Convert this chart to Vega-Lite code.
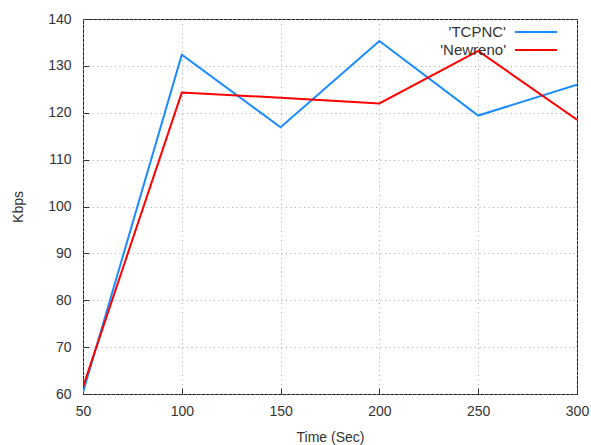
{
  "$schema": "https://vega.github.io/schema/vega-lite/v6.json",
  "autosize": "none",
  "width": 494,
  "height": 375,
  "padding": {"left": 83, "top": 19, "right": 14, "bottom": 51},
  "background": "white",
  "config": {
    "font": "Liberation Sans",
    "view": {"stroke": "#222222", "strokeWidth": 1},
    "axis": {
      "labelFont": "Liberation Sans",
      "titleFont": "Liberation Sans",
      "labelFontSize": 14,
      "titleFontSize": 14,
      "labelColor": "#333333",
      "titleColor": "#333333",
      "titleFontWeight": "normal",
      "grid": true,
      "gridColor": "#a8a8a8",
      "gridDash": [1, 3.5],
      "gridWidth": 1,
      "domain": false,
      "tickColor": "#333333",
      "tickSize": -6,
      "tickWidth": 1,
      "labelFlush": false
    },
    "legend": {
      "title": null,
      "orient": "none",
      "padding": 0,
      "symbolType": "stroke",
      "symbolSize": 1764,
      "symbolStrokeWidth": 2,
      "labelAlign": "right",
      "labelOffset": -52,
      "labelFontSize": 15,
      "labelColor": "#333333",
      "labelFont": "Liberation Sans"
    }
  },
  "data": {
    "values": [
      {"time": 50, "kbps": 60.3, "series": "'TCPNC'"},
      {"time": 100, "kbps": 132.4, "series": "'TCPNC'"},
      {"time": 150, "kbps": 116.9, "series": "'TCPNC'"},
      {"time": 200, "kbps": 135.3, "series": "'TCPNC'"},
      {"time": 250, "kbps": 119.4, "series": "'TCPNC'"},
      {"time": 300, "kbps": 126.0, "series": "'TCPNC'"},
      {"time": 50, "kbps": 61.5, "series": "'Newreno'"},
      {"time": 100, "kbps": 124.3, "series": "'Newreno'"},
      {"time": 150, "kbps": 123.2, "series": "'Newreno'"},
      {"time": 200, "kbps": 122.0, "series": "'Newreno'"},
      {"time": 250, "kbps": 133.2, "series": "'Newreno'"},
      {"time": 300, "kbps": 118.5, "series": "'Newreno'"}
    ]
  },
  "encoding": {
    "x": {
      "field": "time",
      "type": "quantitative",
      "scale": {"domain": [50, 300], "nice": false, "zero": false},
      "axis": {"title": "Time (Sec)", "values": [50, 100, 150, 200, 250, 300], "labelPadding": 16, "titlePadding": 12}
    },
    "y": {
      "field": "kbps",
      "type": "quantitative",
      "scale": {"domain": [60, 140], "nice": false, "zero": false},
      "axis": {"title": "Kbps", "values": [60, 70, 80, 90, 100, 110, 120, 130, 140], "labelPadding": 18, "titlePadding": 22}
    }
  },
  "layer": [
    {
      "transform": [{"filter": "datum.series === \"'TCPNC'\""}],
      "mark": {"type": "line", "strokeWidth": 2, "clip": true},
      "encoding": {
        "color": {
          "field": "series",
          "type": "nominal",
          "scale": {"domain": ["'TCPNC'"], "range": ["#1a8cff"]},
          "legend": {"legendX": 431, "legendY": -9}
        }
      }
    },
    {
      "transform": [{"filter": "datum.series === \"'Newreno'\""}],
      "mark": {"type": "line", "strokeWidth": 2, "clip": true},
      "encoding": {
        "color": {
          "field": "series",
          "type": "nominal",
          "scale": {"domain": ["'Newreno'"], "range": ["#ff0000"]},
          "legend": {"legendX": 431, "legendY": 9}
        }
      }
    }
  ],
  "resolve": {"scale": {"color": "independent"}, "legend": {"color": "independent"}}
}
